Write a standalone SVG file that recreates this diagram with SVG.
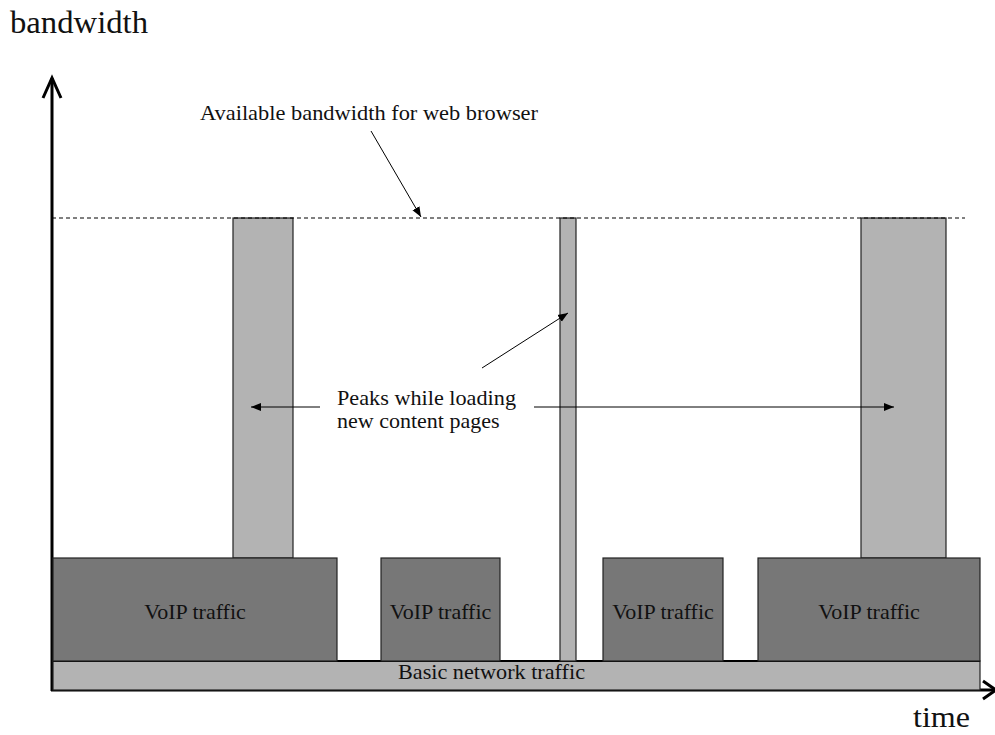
<svg xmlns="http://www.w3.org/2000/svg" width="995" height="735" viewBox="0 0 995 735">
<style>
text{font-family:"Liberation Serif","Times New Roman",serif;fill:#111}
.lbl{font-size:22px}
.light{fill:#b3b3b3;stroke:#222;stroke-width:1.2}
.dark{fill:#777777;stroke:#222;stroke-width:1.2}
.conn{stroke:#000;stroke-width:1;fill:none}
.axis{stroke:#000;stroke-width:3;fill:none}
</style>
<defs>
<marker id="ah" viewBox="0 0 10 10" refX="10" refY="5" markerWidth="10" markerHeight="10" markerUnits="userSpaceOnUse" orient="auto">
<path d="M0,1 L10,5 L0,9 Z" fill="#000"/>
</marker>
</defs>
<g id="axes">
<line class="axis" x1="52" y1="78" x2="52" y2="691"/>
<polyline class="axis" points="43,98 52,78 61,98"/>
<line class="axis" x1="51" y1="690" x2="994" y2="690"/>
<polyline class="axis" points="983,681 996,690 983,699"/>
<text x="10" y="33" font-size="31" textLength="138" lengthAdjust="spacingAndGlyphs">bandwidth</text>
<text x="913" y="727" font-size="29" textLength="57" lengthAdjust="spacingAndGlyphs">time</text>
</g>
<g id="basic">
<rect class="light" x="53" y="661" width="927" height="29"/>
<line x1="53" y1="661" x2="980" y2="661" stroke="#000" stroke-width="2"/>
<text class="lbl" x="398" y="679" textLength="187" lengthAdjust="spacingAndGlyphs">Basic network traffic</text>
</g>
<g id="peak1"><rect class="light" x="233" y="218" width="60" height="340"/></g>
<g id="peak2"><rect class="light" x="560" y="218" width="16" height="443"/></g>
<g id="peak3"><rect class="light" x="861" y="218" width="85" height="340"/></g>
<g id="voip1"><rect class="dark" x="53" y="558" width="284" height="103"/><text class="lbl" x="195" y="619" text-anchor="middle">VoIP traffic</text></g>
<g id="voip2"><rect class="dark" x="381" y="558" width="119" height="103"/><text class="lbl" x="440.5" y="619" text-anchor="middle">VoIP traffic</text></g>
<g id="voip3"><rect class="dark" x="603" y="558" width="120" height="103"/><text class="lbl" x="663" y="619" text-anchor="middle">VoIP traffic</text></g>
<g id="voip4"><rect class="dark" x="758" y="558" width="222" height="103"/><text class="lbl" x="869" y="619" text-anchor="middle">VoIP traffic</text></g>
<g id="labels">
<text class="lbl" x="200" y="120" textLength="338" lengthAdjust="spacingAndGlyphs">Available bandwidth for web browser</text>
<text class="lbl" x="337" y="405" textLength="179" lengthAdjust="spacingAndGlyphs">Peaks while loading</text>
<text class="lbl" x="337" y="428">new content pages</text>
</g>
<g id="connectors">
<line x1="52" y1="218" x2="965" y2="218" stroke="#000" stroke-width="1" stroke-dasharray="4,3"/>
<line class="conn" x1="371" y1="131" x2="421" y2="217" marker-end="url(#ah)"/>
<line class="conn" x1="482" y1="368" x2="568" y2="313" marker-end="url(#ah)"/>
<line class="conn" x1="320" y1="407" x2="251" y2="407" marker-end="url(#ah)"/>
<line class="conn" x1="534" y1="407" x2="894" y2="407" marker-end="url(#ah)"/>
</g>
</svg>
